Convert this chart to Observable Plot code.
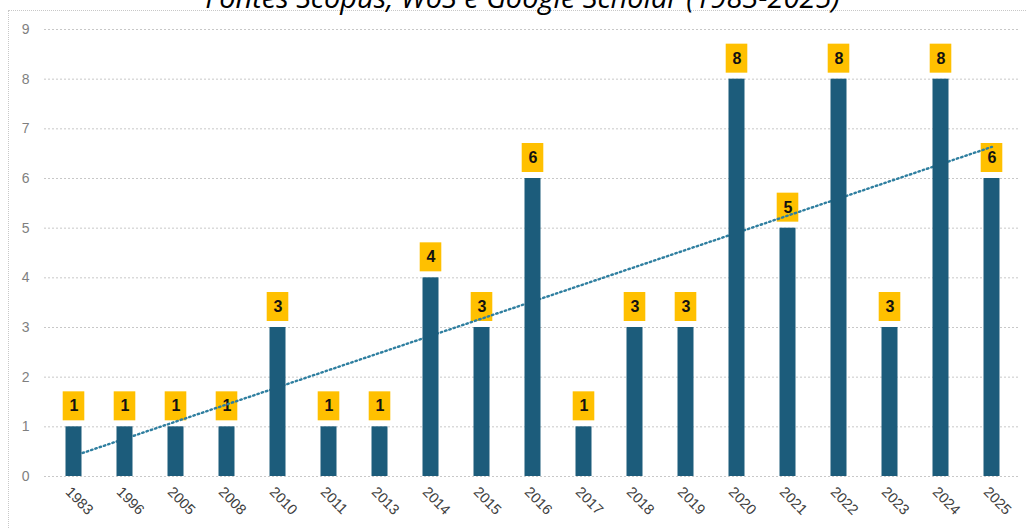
<!DOCTYPE html>
<html>
<head>
<meta charset="utf-8">
<script src="https://cdn.jsdelivr.net/npm/d3@7"></script>
<script src="https://cdn.jsdelivr.net/npm/@observablehq/plot@0.6"></script>
<style>
  html, body { margin: 0; padding: 0; background: #fff; }
  #wrap { position: relative; width: 1027px; height: 528px; overflow: hidden; font-family: "Liberation Sans", Arial, sans-serif; }
  #frame { position: absolute; left: 8px; top: 10px; width: 1040px; height: 540px; border: 1px dotted #c8c8c8; box-sizing: border-box; }
  #title { position: absolute; left: 0; width: 1045px; top: -18px; text-align: center; font-family: "Open Sans", sans-serif; font-style: italic; font-size: 29px; line-height: 1; color: #000; white-space: nowrap; }
  #chart { position: absolute; left: 0; top: 10px; }
</style>
</head>
<body>
<div id="wrap">
  <div id="frame"></div>
  <div id="title">Fontes Scopus, WoS e Google Scholar (1983-2025)</div>
  <div id="chart"></div>
</div>
<script>
const years = ["1983","1996","2005","2008","2010","2011","2013","2014","2015","2016","2017","2018","2019","2020","2021","2022","2023","2024","2025"];
const counts = [1,1,1,1,3,1,1,4,3,6,1,3,3,8,5,8,3,8,6];
const yTicks = [0,1,2,3,4,5,6,7,8,9];

const data = years.map((y, i) => ({year: y, count: counts[i], i}));

// least-squares trend over category index (like Excel linear trendline)
const mx = d3.mean(data, d => d.i), my = d3.mean(data, d => d.count);
const slope = d3.sum(data, d => (d.i - mx) * (d.count - my)) / d3.sum(data, d => (d.i - mx) ** 2);
const intercept = my - slope * mx;
const trend = data.map(d => ({year: d.year, fit: intercept + slope * d.i}));

const H = 518;
const pxPerUnit = (H - 19 - 52) / 9;

const chart = Plot.plot({
  width: 1027,
  height: H,
  marginTop: 19,
  marginBottom: 52,
  marginLeft: 44,
  marginRight: 7,
  style: {fontFamily: "Liberation Sans, Arial, sans-serif", background: "transparent"},
  x: {domain: years, padding: 0, label: null},
  y: {domain: [0, 9], ticks: yTicks, label: null},
  marks: [
    Plot.ruleY(yTicks, {stroke: "#c8c8c8", strokeDasharray: "2,2", strokeWidth: 1}),
    Plot.axisY({ticks: yTicks, tickSize: 0, tickPadding: 15, fontSize: 14, color: "#7f7f7f", label: null}),
    Plot.axisX({tickSize: 0, tickRotate: 45, tickPadding: 13, dx: -6, fontSize: 14.5, color: "#404040", label: null}),
    Plot.barY(data, {x: "year", y1: d => d.count + 6 / pxPerUnit, y2: d => d.count + 35 / pxPerUnit, fill: "#FFC000", insetLeft: 14.7, insetRight: 14.7}),
    Plot.text(data, {x: "year", y: d => d.count + 20.5 / pxPerUnit, text: d => String(d.count), fontWeight: "bold", fontSize: 16, fill: "#111"}),
    Plot.line(trend, {x: "year", y: "fit", stroke: "#2f7fa0", strokeWidth: 2.4, strokeDasharray: "1.5,3", strokeLinecap: "round"}),
    Plot.barY(data, {x: "year", y: "count", fill: "#1c5c7b", insetLeft: 17.5, insetRight: 17.5})
  ]
});
document.getElementById("chart").appendChild(chart);
</script>
</body>
</html>
